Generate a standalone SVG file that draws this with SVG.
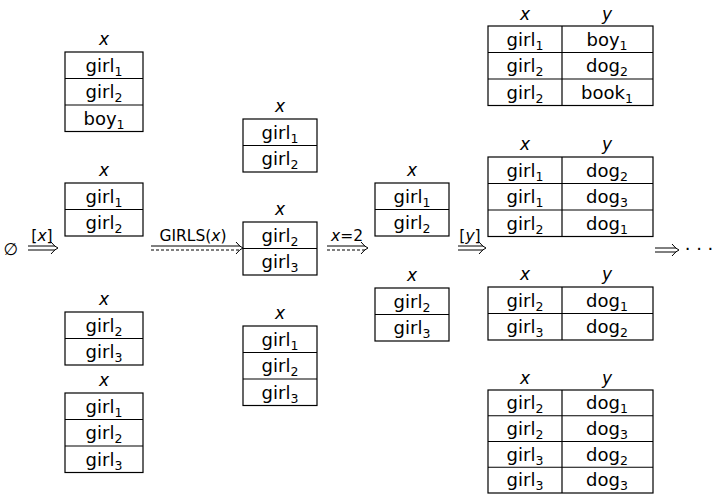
<svg xmlns="http://www.w3.org/2000/svg" width="714" height="495" viewBox="0 0 714 495">
<style>
text{font-family:"DejaVu Sans","Liberation Sans",sans-serif;font-size:18px;fill:#000;text-anchor:middle}
.h{font-style:italic;font-size:17px}
.s{font-size:12.5px}
.l{font-size:15.5px}
.l .h{font-size:15.5px}
rect,line.c{fill:none;stroke:#000;stroke-width:1.2}
.a line,.a path{fill:none;stroke:#000;stroke-width:1}
.d{stroke-dasharray:3 2}
</style>
<defs>
<path id="hd" d="M-7,-6 Q-3,-1 0,0 Q-3,1 -7,6" fill="none" stroke="#000" stroke-width="1"/>
</defs>
<g id="empty"><text x="11" y="255" style="font-size:17px">∅</text></g>
<g id="c1t1">
<text class="h" x="104" y="45">x</text>
<rect x="65" y="52" width="78" height="79.5"/>
<line class="c" x1="65" y1="78.5" x2="143" y2="78.5"/><line class="c" x1="65" y1="105" x2="143" y2="105"/>
<text x="104" y="71.5">girl<tspan class="s" dy="4">1</tspan></text>
<text x="104" y="98">girl<tspan class="s" dy="4">2</tspan></text>
<text x="104" y="124.5">boy<tspan class="s" dy="4">1</tspan></text>
</g>
<g id="c1t2">
<text class="h" x="104" y="176">x</text>
<rect x="65" y="183" width="78" height="53"/>
<line class="c" x1="65" y1="209.5" x2="143" y2="209.5"/>
<text x="104" y="202.5">girl<tspan class="s" dy="4">1</tspan></text>
<text x="104" y="229">girl<tspan class="s" dy="4">2</tspan></text>
</g>
<g id="c1t3">
<text class="h" x="104" y="305">x</text>
<rect x="65" y="312" width="78" height="53"/>
<line class="c" x1="65" y1="338.5" x2="143" y2="338.5"/>
<text x="104" y="331.5">girl<tspan class="s" dy="4">2</tspan></text>
<text x="104" y="358">girl<tspan class="s" dy="4">3</tspan></text>
</g>
<g id="c1t4">
<text class="h" x="104" y="386">x</text>
<rect x="65" y="393" width="78" height="79.5"/>
<line class="c" x1="65" y1="419.5" x2="143" y2="419.5"/><line class="c" x1="65" y1="446" x2="143" y2="446"/>
<text x="104" y="412.5">girl<tspan class="s" dy="4">1</tspan></text>
<text x="104" y="439">girl<tspan class="s" dy="4">2</tspan></text>
<text x="104" y="465.5">girl<tspan class="s" dy="4">3</tspan></text>
</g>
<g id="c2t1">
<text class="h" x="280" y="112">x</text>
<rect x="243" y="119" width="74" height="53"/>
<line class="c" x1="243" y1="145.5" x2="317" y2="145.5"/>
<text x="280" y="138.5">girl<tspan class="s" dy="4">1</tspan></text>
<text x="280" y="165">girl<tspan class="s" dy="4">2</tspan></text>
</g>
<g id="c2t2">
<text class="h" x="280" y="215">x</text>
<rect x="243" y="222" width="74" height="53"/>
<line class="c" x1="243" y1="248.5" x2="317" y2="248.5"/>
<text x="280" y="241.5">girl<tspan class="s" dy="4">2</tspan></text>
<text x="280" y="268">girl<tspan class="s" dy="4">3</tspan></text>
</g>
<g id="c2t3">
<text class="h" x="280" y="319">x</text>
<rect x="243" y="326" width="74" height="79.5"/>
<line class="c" x1="243" y1="352.5" x2="317" y2="352.5"/><line class="c" x1="243" y1="379" x2="317" y2="379"/>
<text x="280" y="345.5">girl<tspan class="s" dy="4">1</tspan></text>
<text x="280" y="372">girl<tspan class="s" dy="4">2</tspan></text>
<text x="280" y="398.5">girl<tspan class="s" dy="4">3</tspan></text>
</g>
<g id="c3t1">
<text class="h" x="412" y="176">x</text>
<rect x="375" y="183" width="74" height="53"/>
<line class="c" x1="375" y1="209.5" x2="449" y2="209.5"/>
<text x="412" y="202.5">girl<tspan class="s" dy="4">1</tspan></text>
<text x="412" y="229">girl<tspan class="s" dy="4">2</tspan></text>
</g>
<g id="c3t2">
<text class="h" x="412" y="281">x</text>
<rect x="375" y="288" width="74" height="53"/>
<line class="c" x1="375" y1="314.5" x2="449" y2="314.5"/>
<text x="412" y="307.5">girl<tspan class="s" dy="4">2</tspan></text>
<text x="412" y="334">girl<tspan class="s" dy="4">3</tspan></text>
</g>
<g id="c4t1">
<text class="h" x="525" y="20">x</text><text class="h" x="607" y="20">y</text>
<rect x="488" y="26" width="165" height="79.5"/>
<line class="c" x1="562" y1="26" x2="562" y2="105.5"/>
<line class="c" x1="488" y1="52.5" x2="653" y2="52.5"/><line class="c" x1="488" y1="79" x2="653" y2="79"/>
<text x="525" y="45.5">girl<tspan class="s" dy="4">1</tspan></text><text x="607" y="45.5">boy<tspan class="s" dy="4">1</tspan></text>
<text x="525" y="72">girl<tspan class="s" dy="4">2</tspan></text><text x="607" y="72">dog<tspan class="s" dy="4">2</tspan></text>
<text x="525" y="98.5">girl<tspan class="s" dy="4">2</tspan></text><text x="607" y="98.5">book<tspan class="s" dy="4">1</tspan></text>
</g>
<g id="c4t2">
<text class="h" x="525" y="150">x</text><text class="h" x="607" y="150">y</text>
<rect x="488" y="157" width="165" height="79.5"/>
<line class="c" x1="562" y1="157" x2="562" y2="236.5"/>
<line class="c" x1="488" y1="183.5" x2="653" y2="183.5"/><line class="c" x1="488" y1="210" x2="653" y2="210"/>
<text x="525" y="176.5">girl<tspan class="s" dy="4">1</tspan></text><text x="607" y="176.5">dog<tspan class="s" dy="4">2</tspan></text>
<text x="525" y="203">girl<tspan class="s" dy="4">1</tspan></text><text x="607" y="203">dog<tspan class="s" dy="4">3</tspan></text>
<text x="525" y="229.5">girl<tspan class="s" dy="4">2</tspan></text><text x="607" y="229.5">dog<tspan class="s" dy="4">1</tspan></text>
</g>
<g id="c4t3">
<text class="h" x="525" y="280">x</text><text class="h" x="607" y="280">y</text>
<rect x="488" y="287" width="165" height="53"/>
<line class="c" x1="562" y1="287" x2="562" y2="340"/>
<line class="c" x1="488" y1="313.5" x2="653" y2="313.5"/>
<text x="525" y="306.5">girl<tspan class="s" dy="4">2</tspan></text><text x="607" y="306.5">dog<tspan class="s" dy="4">1</tspan></text>
<text x="525" y="333">girl<tspan class="s" dy="4">3</tspan></text><text x="607" y="333">dog<tspan class="s" dy="4">2</tspan></text>
</g>
<g id="c4t4">
<text class="h" x="525" y="384">x</text><text class="h" x="607" y="384">y</text>
<rect x="488" y="390" width="165" height="103"/>
<line class="c" x1="562" y1="390" x2="562" y2="493"/>
<line class="c" x1="488" y1="415.75" x2="653" y2="415.75"/><line class="c" x1="488" y1="441.5" x2="653" y2="441.5"/><line class="c" x1="488" y1="467.25" x2="653" y2="467.25"/>
<text x="525" y="409">girl<tspan class="s" dy="4">2</tspan></text><text x="607" y="409">dog<tspan class="s" dy="4">1</tspan></text>
<text x="525" y="434.75">girl<tspan class="s" dy="4">2</tspan></text><text x="607" y="434.75">dog<tspan class="s" dy="4">3</tspan></text>
<text x="525" y="460.5">girl<tspan class="s" dy="4">3</tspan></text><text x="607" y="460.5">dog<tspan class="s" dy="4">2</tspan></text>
<text x="525" y="486.25">girl<tspan class="s" dy="4">3</tspan></text><text x="607" y="486.25">dog<tspan class="s" dy="4">3</tspan></text>
</g>
<g id="connectors" class="a">
<text class="l" x="42" y="241">[<tspan class="h">x</tspan>]</text>
<line x1="28" y1="246" x2="55" y2="246"/><line x1="28" y1="250" x2="55" y2="250"/><use href="#hd" x="58" y="248"/>
<text class="l" x="193" y="241">GIRLS(<tspan class="h">x</tspan>)</text>
<line x1="151" y1="246" x2="240" y2="246"/><line class="d" x1="151" y1="250" x2="240" y2="250"/><use href="#hd" x="243" y="248"/>
<text class="l" x="347" y="241"><tspan class="h">x</tspan>=2</text>
<line x1="327" y1="246" x2="365" y2="246"/><line class="d" x1="327" y1="250" x2="365" y2="250"/><use href="#hd" x="368" y="248"/>
<text class="l" x="470" y="241">[<tspan class="h">y</tspan>]</text>
<line x1="458" y1="246" x2="483" y2="246"/><line x1="458" y1="250" x2="483" y2="250"/><use href="#hd" x="486" y="248"/>
<line x1="655" y1="248" x2="676" y2="248"/><line x1="655" y1="252" x2="676" y2="252"/><use href="#hd" x="679" y="250"/>
<text x="699" y="255">· · ·</text>
</g>
</svg>
